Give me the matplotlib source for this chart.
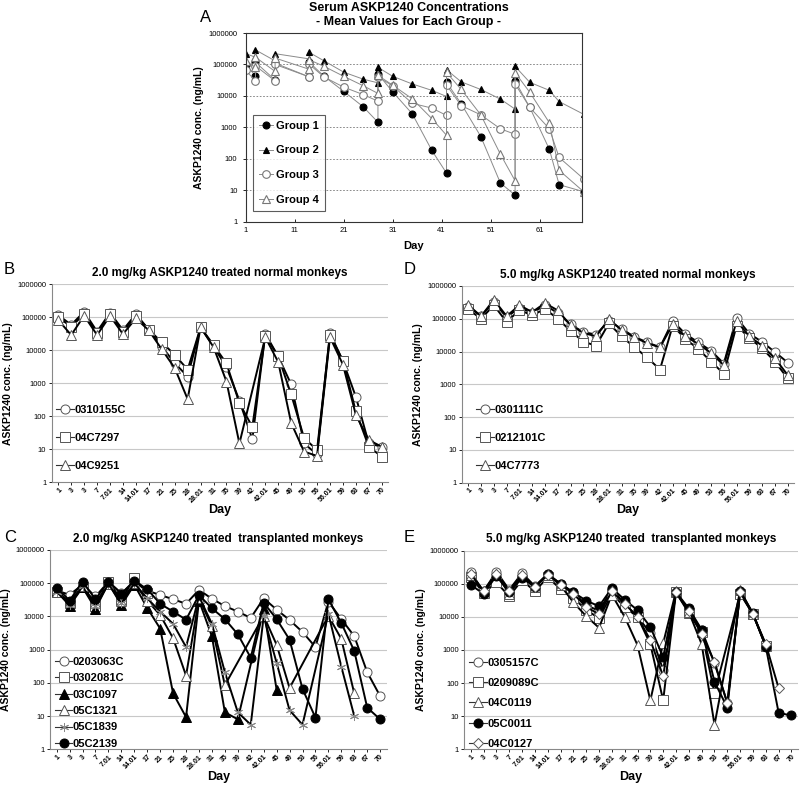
import numpy as np
import matplotlib
matplotlib.use("Agg")
import matplotlib.pyplot as plt
from matplotlib.lines import Line2D

plt.rcParams['font.family'] = ['Liberation Sans', 'DejaVu Sans']

nan = np.nan

# ---------------- Panel A data ----------------
days_A = [1, 3, 3, 7, 7, 14, 14, 17, 21, 25, 28, 28, 31, 35, 39, 42, 42, 45, 49, 53, 56, 56, 59, 63, 65, 70]
group1 = [98000, 44000, 117000, 32000, 110000, 40000, 117000, 42000, 14000, 4500, 1450, 50000, 13500, 2700,
          185, 35, 27000, 5600, 510, 17, 7, 30000, 4300, 200, 15, 9]
group2 = [220000, 170000, 290000, 130000, 220000, 150000, 240000, 130000, 57000, 34000, 26000, 81000, 42000,
          24000, 15000, 9600, 68000, 28000, 16000, 7900, 3800, 87000, 27000, 15000, 6600, 2600]
group3 = [65000, 30000, 90000, 30000, 100000, 40000, 100000, 40000, 19000, 11000, 6800, 40000, 21000, 5800,
          4100, 2400, 22000, 4900, 2500, 900, 600, 24000, 4300, 900, 110, 23]
group4 = [130000, 80000, 170000, 60000, 160000, 70000, 140000, 87000, 42000, 21000, 12000, 45000, 22000, 8100,
          1900, 560, 56000, 16000, 2500, 140, 20, 55000, 13000, 1400, 43, 9]

# ---------------- Category axis (B-E) ----------------
day_labels = ['1', '3', '3', '7', '7.01', '14', '14.01', '17', '21', '25', '28', '28.01', '31', '35', '39',
              '42', '42.01', '45', '49', '53', '56', '56.01', '59', '63', '67', '70']

# Panel B: 2.0 mg/kg normal
B_names = ['0310155C', '04C7297', '04C9251']
B_0310155C = [117000, 59000, 148000, 37000, 138000, 41000, 126000, 42000, 13000, 4100, 1600, 50000, 13000, 3100,
              300, 20, 32000, 6500, 930, 15, 7, 33000, 4700, 390, 15, 12]
B_04C7297 = [100000, 52000, 126000, 33000, 126000, 37000, 112000, 42000, 17500, 7300, 2600, 50000, 14500, 4000,
             250, 48, 28000, 6500, 460, 22, 9.5, 29000, 4900, 140, 12, 6]
B_04C9251 = [83000, 29000, 112000, 29000, 110000, 31000, 93000, 40000, 10700, 2900, 330, 50000, 12500, 1130,
             15, nan, 25000, 4400, 63, 8.5, 6.3, 25000, 3700, 110, 19, 12]

# Panel D: 5.0 mg/kg normal
D_names = ['0301111C', '0212101C', '04C7773']
D_0301111C = [235000, 120000, 330000, 110000, 220000, 150000, 260000, 150000, 67000, 39000, 33000, 85000, 49000,
              28000, 19000, 13400, 85000, 34000, 19000, 10500, 4300, 107000, 35000, 19500, 9600, 4600]
D_0212101C = [195000, 100000, 260000, 79000, 185000, 127000, 200000, 100000, 43000, 20000, 15000, 72000, 29000,
              13500, 6600, 2800, 62000, 24000, 12000, 4900, 2100, 62000, 26000, 12500, 4900, 1500]
D_04C7773 = [260000, 120000, 380000, 120000, 260000, 160000, 300000, 180000, 64000, 37000, 29000, 98000, 45000,
             27000, 18000, 13400, 67000, 29000, 17000, 9000, 3800, 85000, 29000, 15000, 6200, 1900]

# Panel C: 2.0 mg/kg transplanted
C_names = ['0203063C', '0302081C', '03C1097', '05C1321', '05C1839', '05C2139']
C_0203063C = [60000, 45000, 90000, 40000, 110000, 50000, 110000, 60000, 44000, 33000, 24000, 63000, 34000, 20500,
              14000, 9000, 35000, 16000, 7800, 3400, 1200, 28000, 8300, 2550, 210, 40]
C_0302081C = [56000, 25000, 79000, 20000, 112000, 32000, 140000, 50000, nan, nan, nan, nan, nan, nan,
              nan, nan, nan, nan, nan, nan, nan, nan, nan, nan, nan, nan]
C_03C1097 = [60000, 21000, 75000, 17000, 100000, 22000, 90000, 18000, 4300, 48, 9.3, 30000, 2500, 13, 8, nan,
             16500, 62, nan, nan, nan, nan, nan, nan, nan, nan]
C_05C1321 = [55000, 28000, 80000, 25000, 95000, 30000, 100000, 30000, 11000, 2200, 165, 35000, 5000, 85, nan, nan,
             10500, 1400, 70, nan, nan, 10500, 2100, 48, nan, nan]
C_05C1839 = [55000, 22000, 80000, 20000, 95000, 25000, 100000, 35000, 14000, 6000, 1200, 40000, 6000, 210, 13,
             5.5, 10000, 400, 15, 5.5, nan, 12000, 310, 10, nan, nan]
C_05C2139 = [74000, 30000, 112000, 33000, 112000, 48000, 120000, 66000, 24000, 14000, 8000, 44000, 17500, 8300,
             2900, 570, 26000, 8300, 2000, 66, 9, 33000, 6300, 920, 18, 8]

# Panel E: 5.0 mg/kg transplanted
E_names = ['0305157C', '0209089C', '04C0119', '05C0011', '04C0127']
E_0305157C = [224000, 59000, 234000, 66000, 209000, 85000, 200000, 100000, 55000, 23000, 15000, 70000, 25000,
              10000, 3300, 250, 55000, 15000, 4000, 400, 25, 55000, 12000, 1300, nan, nan]
E_0209089C = [165000, 52000, 110000, 42000, 130000, 59000, 160000, 69000, 37000, 16500, 9000, 50000, 20000,
              10000, 1500, 30, 55000, 13000, 3500, 50, nan, 50000, 12000, 1300, nan, nan]
E_04C0119 = [190000, 60000, 200000, 50000, 180000, 80000, 190000, 90000, 27500, 10500, 4700, 47000, 10000, 1400,
             30, 1600, 60000, 14000, 1500, 5.5, nan, 65000, 12000, 1400, nan, nan]
E_05C0011 = [93000, 50000, 174000, 55000, 148000, 80000, 195000, 100000, 55000, 31000, 21000, 74000, 33000, 16000,
             5000, 600, 56000, 18000, 4100, 110, 18, 60000, 13000, 1240, 12.6, 10.5]
E_04C0127 = [200000, 60000, 200000, 60000, 190000, 80000, 190000, 95000, 50000, 20000, 12000, 60000, 25000, 10000,
             2000, 160, 55000, 15000, 3000, 430, 25, 55000, 12000, 1500, 70, nan]

# ---------------- Figure ----------------
W, H = 800, 786
fig = plt.figure(figsize=(W / 100, H / 100), dpi=100)


def ax_px(left, top, right, bottom):
    return fig.add_axes([left / W, 1 - bottom / H, (right - left) / W, (bottom - top) / H])


yticks = [1, 10, 100, 1000, 10000, 100000, 1000000]
ylabels = ['1', '10', '100', '1000', '10000', '100000', '1000000']

# ---- Panel A ----
axA = ax_px(245.7, 33, 581.7, 221.7)
axA.set_yscale('log')
axA.set_ylim(1, 1e6)
axA.set_xlim(1, 69.6)
for yv in yticks[1:-1]:
    axA.axhline(yv, color='#777777', lw=0.6, ls=(0, (2, 2)), zorder=0)
stylesA = [
    dict(marker='o', mfc='black', mec='black', ms=5),
    dict(marker='^', mfc='black', mec='black', ms=5),
    dict(marker='o', mfc='white', mec='#777777', ms=5.5),
    dict(marker='^', mfc='white', mec='#777777', ms=5.5),
]
for vals, st, lab in zip([group1, group2, group3, group4], stylesA, ['Group 1', 'Group 2', 'Group 3', 'Group 4']):
    axA.plot(days_A, vals, color='#8a8a8a', lw=0.7, label=lab, mew=0.8, **st)
axA.set_yticks(yticks)
axA.set_yticklabels(ylabels, fontsize=5.5)
axA.minorticks_off()
axA.set_xticks([1, 11, 21, 31, 41, 51, 61])
axA.tick_params(axis='x', labelsize=5.5, length=2.5, direction='in', width=0.6)
axA.tick_params(axis='y', length=2.5, direction='out', width=0.6)
for s in axA.spines.values():
    s.set_linewidth(0.8)
    s.set_color('#333333')
axA.set_ylabel('ASKP1240 conc. (ng/mL)', fontsize=7.5, fontweight='bold', labelpad=3)
axA.set_xlabel('Day', fontsize=8, fontweight='bold', labelpad=5)
legA = axA.legend(loc='lower left', bbox_to_anchor=(0.021, 0.057), fontsize=8, frameon=True, fancybox=False,
                  edgecolor='#333333', handlelength=1.3, handletextpad=0.25, labelspacing=1.32,
                  borderpad=0.55, borderaxespad=0)
for t in legA.get_texts():
    t.set_fontweight('bold')
legA.get_frame().set_linewidth(0.8)
fig.text(409 / W, 1 - 8 / H, 'Serum ASKP1240 Concentrations', ha='center', va='center', fontsize=9,
         fontweight='bold')
fig.text(409 / W, 1 - 22 / H, '- Mean Values for Each Group -', ha='center', va='center', fontsize=9,
         fontweight='bold')
fig.text(200 / W, 1 - 18 / H, 'A', ha='left', va='center', fontsize=12)

x = np.arange(len(day_labels))


def cat_panel(ax, title, series, names, styles, leg_anchor, leg_spacing):
    ax.set_yscale('log')
    ax.set_ylim(1, 1e6)
    ax.set_xlim(-0.5, len(day_labels) - 0.5)
    for yv in yticks[1:]:
        ax.axhline(yv, color='#c8c8c8', lw=0.8, zorder=0)
    handles = []
    for vals, st, nm in zip(series, styles, names):
        v = np.array(vals, dtype=float)
        ok = ~np.isnan(v)
        ax.plot(x[ok], v[ok], color='black', lw=1.4, mew=0.7, zorder=3, **st)
        handles.append(Line2D([0], [0], color='#333333', lw=0.8, mew=0.7, **st))
    ax.set_yticks(yticks)
    ax.set_yticklabels(ylabels, fontsize=5.5)
    ax.minorticks_off()
    ax.set_xticks(x)
    ax.set_xticklabels(day_labels, rotation=45, ha='right', va='top', fontsize=5, fontweight='bold',
                       rotation_mode='anchor')
    ax.tick_params(axis='x', length=2, width=0.6, pad=1)
    ax.tick_params(axis='y', length=2, width=0.6, pad=2)
    for side in ['top', 'right']:
        ax.spines[side].set_visible(False)
    for side in ['left', 'bottom']:
        ax.spines[side].set_color('#888888')
        ax.spines[side].set_linewidth(0.8)
    ax.set_ylabel('ASKP1240 conc. (ng/mL)', fontsize=7.5, fontweight='bold', labelpad=3)
    ax.set_xlabel('Day', fontsize=9, fontweight='bold', labelpad=0)
    ax.set_title(title, fontsize=8.5, fontweight='bold', pad=6)
    leg = ax.legend(handles, names, loc='lower left', bbox_to_anchor=leg_anchor, fontsize=8, frameon=False,
                    handlelength=1.6, handletextpad=0.05, labelspacing=leg_spacing, borderaxespad=0)
    for t in leg.get_texts():
        t.set_fontweight('bold')


def mk(marker, fill, ms=6.5, mec='#555555'):
    return dict(marker=marker, mfc=fill, mec=mec, ms=ms)


axB = ax_px(51.8, 284.3, 388.2, 482.3)
cat_panel(axB, '2.0 mg/kg ASKP1240 treated normal monkeys', [B_0310155C, B_04C7297, B_04C9251], B_names,
          [mk('o', 'white'), mk('s', 'white'), mk('^', 'white')], (0.0, 0.035), 1.62)

axD = ax_px(461.9, 286, 794.1, 482.5)
cat_panel(axD, '5.0 mg/kg ASKP1240 treated normal monkeys', [D_0301111C, D_0212101C, D_04C7773], D_names,
          [mk('o', 'white'), mk('s', 'white'), mk('^', 'white')], (0.03, 0.035), 1.62)

axC = ax_px(50.2, 550, 386.6, 749.3)
cat_panel(axC, '2.0 mg/kg ASKP1240 treated  transplanted monkeys',
          [C_0203063C, C_0302081C, C_03C1097, C_05C1321, C_05C1839, C_05C2139], C_names,
          [mk('o', 'white'), mk('s', 'white'), mk('^', 'black', mec='black'), mk('^', 'white'),
           dict(marker=(6, 2, 0), mfc='none', mec='#888888', ms=6.5), mk('o', 'black', mec='black')],
          (0.0, -0.02), 0.58)

axE = ax_px(464.3, 550.7, 797.9, 749.3)
cat_panel(axE, '5.0 mg/kg ASKP1240 treated  transplanted monkeys',
          [E_0305157C, E_0209089C, E_04C0119, E_05C0011, E_04C0127], E_names,
          [mk('o', 'white'), mk('s', 'white'), mk('^', 'white'), mk('o', 'black', mec='black'), mk('D', 'white', ms=5)],
          (0.0, -0.02), 0.92)

fig.text(4 / W, 1 - 269 / H, 'B', ha='left', va='center', fontsize=12)
fig.text(404 / W, 1 - 269 / H, 'D', ha='left', va='center', fontsize=12)
fig.text(4 / W, 1 - 537 / H, 'C', ha='left', va='center', fontsize=12)
fig.text(404 / W, 1 - 537 / H, 'E', ha='left', va='center', fontsize=12)

fig.savefig('out.png', dpi=100)
